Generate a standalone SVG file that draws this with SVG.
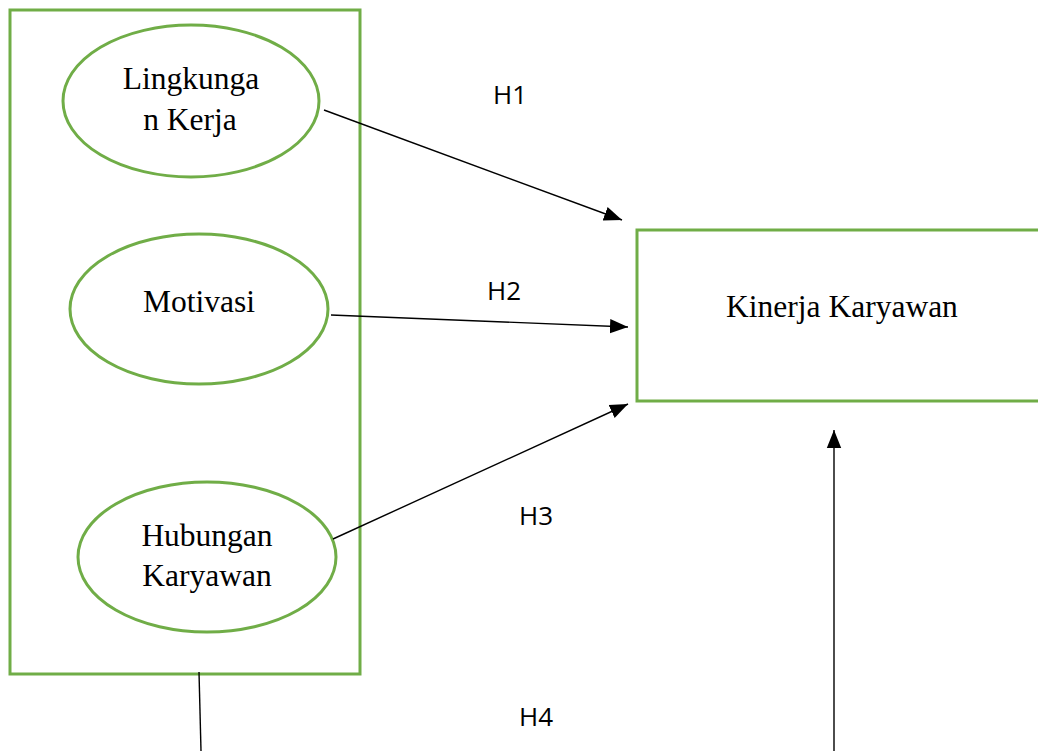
<svg xmlns="http://www.w3.org/2000/svg" width="1038" height="751" viewBox="0 0 1038 751">
<style>
.g{fill:none;stroke:#70AD47;stroke-width:3}
.t{font-family:"Liberation Serif",serif;font-size:31.5px;fill:#000;text-anchor:middle}
.h{font-family:"Open Sans","Liberation Sans",sans-serif;font-size:26px;fill:#000;text-anchor:middle}
.c{stroke:#000;stroke-width:1.4;fill:none}
</style>
<defs>
<marker id="ahb" viewBox="0 0 10 10" refX="10" refY="5" markerWidth="18" markerHeight="18" markerUnits="userSpaceOnUse" orient="auto">
<path d="M0,1 L10,5 L0,9 z" fill="#000"/>
</marker>
</defs>
<rect width="1038" height="751" fill="#fff"/>
<g id="group-box"><rect class="g" x="10" y="10" width="350" height="664"/></g>
<g id="lingkungan-kerja">
<ellipse class="g" cx="191" cy="101" rx="128" ry="76"/>
<text class="t" x="191" y="89">Lingkunga</text>
<text class="t" x="190" y="130">n Kerja</text>
</g>
<g id="motivasi">
<ellipse class="g" cx="199" cy="309" rx="129" ry="75"/>
<text class="t" x="199" y="312">Motivasi</text>
</g>
<g id="hubungan-karyawan">
<ellipse class="g" cx="207" cy="557" rx="129" ry="75"/>
<text class="t" x="207" y="546">Hubungan</text>
<text class="t" x="207" y="586">Karyawan</text>
</g>
<g id="kinerja-karyawan">
<rect class="g" x="637" y="230" width="410" height="171"/>
<text class="t" x="842" y="317">Kinerja Karyawan</text>
</g>
<g id="connectors">
<line class="c" x1="324" y1="110" x2="622" y2="220" marker-end="url(#ahb)"/>
<line class="c" x1="331" y1="315" x2="628" y2="327" marker-end="url(#ahb)"/>
<line class="c" x1="333" y1="539" x2="628" y2="404" marker-end="url(#ahb)"/>
<line class="c" x1="834" y1="751" x2="834" y2="430" marker-end="url(#ahb)"/>
<line class="c" x1="199" y1="672" x2="201" y2="751"/>
</g>
<g id="labels">
<text class="h" x="510" y="104">H1</text>
<text class="h" x="504" y="300">H2</text>
<text class="h" x="536" y="525">H3</text>
<text class="h" x="536" y="726">H4</text>
</g>
</svg>
